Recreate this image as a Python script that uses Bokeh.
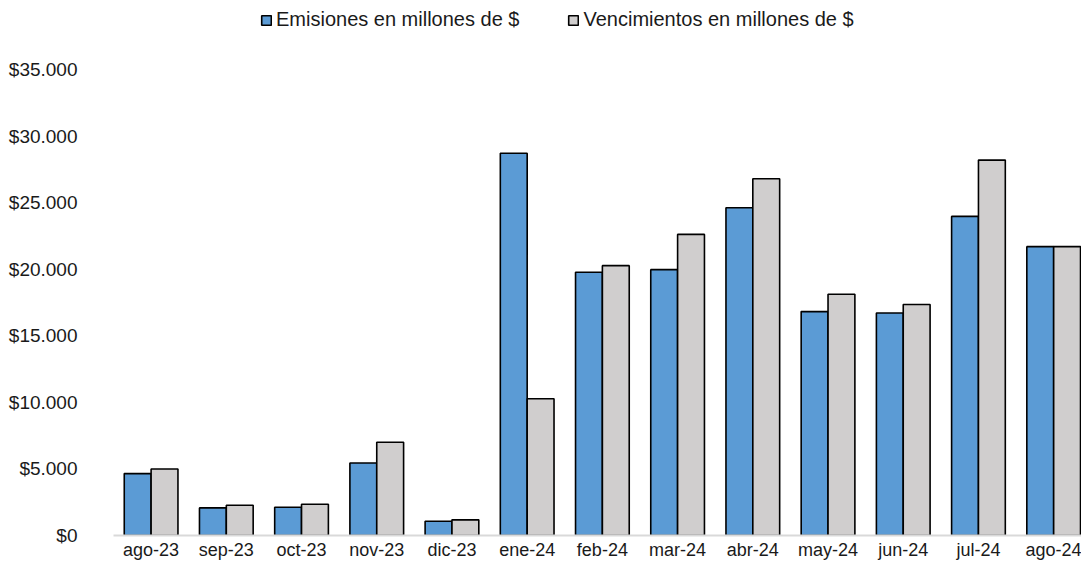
from bokeh.plotting import figure
from bokeh.models import (ColumnDataSource, Range1d, FixedTicker, Legend, LegendItem)
from bokeh.transform import dodge
from bokeh.embed import file_html
from bokeh.resources import INLINE

months = ["ago-23", "sep-23", "oct-23", "nov-23", "dic-23", "ene-24", "feb-24",
          "mar-24", "abr-24", "may-24", "jun-24", "jul-24", "ago-24"]
emisiones = [4650, 2075, 2125, 5450, 1075, 28710, 19780, 19970, 24620, 16820, 16720, 23970, 21700]
vencimientos = [5000, 2275, 2350, 7000, 1175, 10270, 20270, 22620, 26800, 18120, 17350, 28200, 21700]
y_ticks = [0, 5000, 10000, 15000, 20000, 25000, 30000, 35000]

idx = list(range(len(months)))
src = ColumnDataSource(dict(x=idx, em=emisiones, ve=vencimientos))

# frame spans full height above the axis so the legend can sit at the top inside it
p = figure(width=1081, height=562, output_backend="svg", toolbar_location=None,
           x_range=Range1d(-0.5, 12.37), y_range=Range1d(0, 40190),
           min_border_left=113, min_border_right=0, min_border_top=0, min_border_bottom=26)
p.outline_line_color = None
p.background_fill_color = "white"
p.border_fill_color = "white"
p.xgrid.visible = False
p.ygrid.visible = False

r1 = p.vbar(x=dodge("x", -0.1785, range=p.x_range), top="em", width=0.357, source=src,
            fill_color="#5B9BD5", line_color="black", line_width=1.6)
r2 = p.vbar(x=dodge("x", 0.1785, range=p.x_range), top="ve", width=0.357, source=src,
            fill_color="#D0CECE", line_color="black", line_width=1.6)

txt = "#1a1a1a"
xa = p.xaxis[0]
xa.ticker = FixedTicker(ticks=idx)
xa.major_label_overrides = {i: m for i, m in enumerate(months)}
xa.axis_line_color = "#d9d9d9"
xa.axis_line_width = 2
xa.major_tick_line_color = None
xa.minor_tick_line_color = None
xa.major_tick_out = 0
xa.major_label_standoff = 4
xa.major_label_text_font = "Liberation Sans"
xa.major_label_text_font_size = "18px"
xa.major_label_text_color = txt

ya = p.yaxis[0]
ya.ticker = FixedTicker(ticks=y_ticks)
ya.major_label_overrides = {v: "$" + f"{v:,}".replace(",", ".") for v in y_ticks}
ya.axis_line_color = None
ya.major_tick_line_color = None
ya.minor_tick_line_color = None
ya.major_tick_out = 0
ya.major_label_standoff = 36
ya.major_label_text_font = "Liberation Sans"
ya.major_label_text_font_size = "19px"
ya.major_label_text_color = txt

legend = Legend(items=[LegendItem(label="Emisiones en millones de $", renderers=[r1]),
                       LegendItem(label="Vencimientos en millones de $", renderers=[r2])],
                orientation="horizontal", location=(147, 504),
                margin=0, padding=2, spacing=48, label_standoff=4,
                glyph_width=12, glyph_height=12, label_height=20,
                label_text_font="Liberation Sans", label_text_font_size="20px",
                label_text_color=txt, border_line_color=None,
                background_fill_alpha=0)
p.add_layout(legend, "center")

open("out.html", "w").write(file_html(p, INLINE))
